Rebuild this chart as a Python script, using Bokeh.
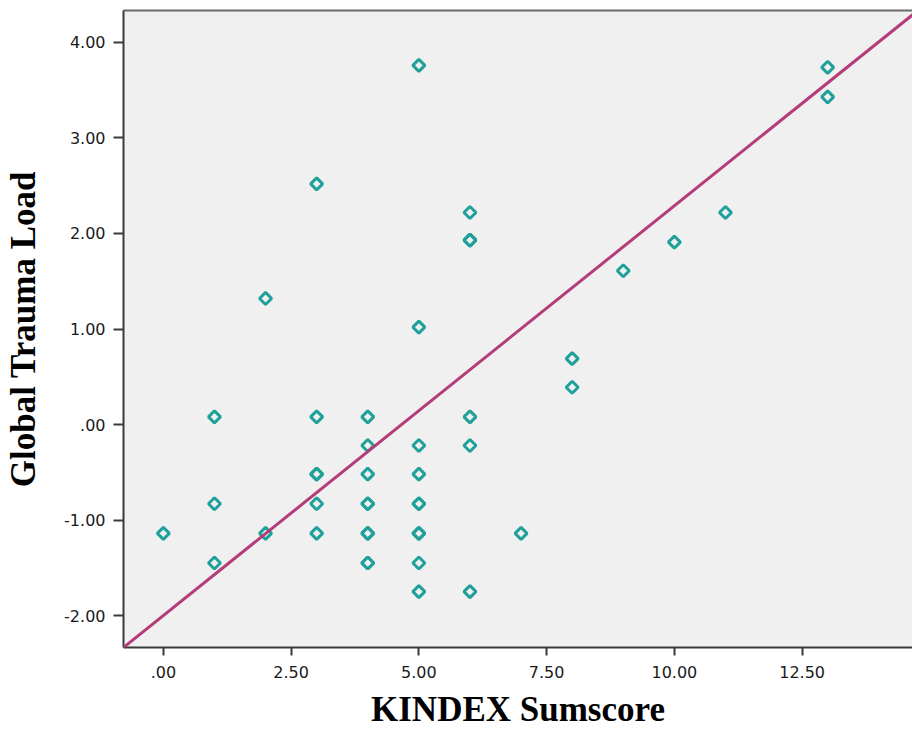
import math
from bokeh.plotting import figure
from bokeh.models import FixedTicker, LinearAxis, Slope, Range1d
from bokeh.embed import file_html
from bokeh.resources import INLINE

# ---- data ----
kindex = [0,
          1, 1, 1,
          2, 2,
          3, 3, 3, 3, 3, 3,
          4, 4, 4, 4, 4, 4, 4, 4, 4,
          5, 5, 5, 5, 5, 5, 5, 5, 5, 5,
          6, 6, 6, 6, 6, 6,
          7,
          8, 8,
          9,
          10,
          11,
          13, 13]
trauma = [-1.14,
          0.08, -0.83, -1.45,
          1.32, -1.14,
          2.52, 0.08, -0.52, -0.52, -0.83, -1.14,
          0.08, -0.22, -0.52, -0.83, -0.83, -1.14, -1.14, -1.45, -1.45,
          3.76, 1.02, -0.22, -0.52, -0.83, -0.83, -1.14, -1.14, -1.45, -1.75,
          2.22, 1.93, 1.93, 0.08, -0.22, -1.75,
          -1.14,
          0.69, 0.39,
          1.61,
          1.91,
          2.22,
          3.74, 3.43]

fit_intercept = -2.0
fit_slope = 0.429

x_ticks = [0, 2.5, 5, 7.5, 10, 12.5]
x_tick_labels = [".00", "2.50", "5.00", "7.50", "10.00", "12.50"]
y_ticks = [-2, -1, 0, 1, 2, 3, 4]
y_tick_labels = ["-2.00", "-1.00", ".00", "1.00", "2.00", "3.00", "4.00"]

x_title = "KINDEX Sumscore"
y_title = "Global Trauma Load"

# ---- figure ----
p = figure(width=912, height=733, output_backend="svg", toolbar_location=None,
           x_range=Range1d(-0.78, 14.66), y_range=Range1d(-2.335, 4.335),
           min_border_left=123, min_border_right=0, min_border_top=10,
           min_border_bottom=86)
p.background_fill_color = "#f0f0f0"
p.border_fill_color = "white"
p.outline_line_color = None
p.grid.visible = False

axis_color = "#3a3a3a"
for ax, ticks, labels, tout in ((p.xaxis[0], x_ticks, x_tick_labels, 8),
                                (p.yaxis[0], y_ticks, y_tick_labels, 10)):
    ax.ticker = FixedTicker(ticks=ticks)
    ax.major_label_overrides = {t: l for t, l in zip(ticks, labels)}
    ax.major_tick_out = tout
    ax.major_tick_in = 0
    ax.minor_tick_line_color = None
    ax.axis_line_color = axis_color
    ax.axis_line_width = 2
    ax.major_tick_line_color = axis_color
    ax.major_tick_line_width = 2
    ax.major_label_text_font = "DejaVu Sans"
    ax.major_label_text_font_size = "16px"
    ax.major_label_text_color = "#1a1a1a"
    ax.axis_label_text_font = "Liberation Serif"
    ax.axis_label_text_font_style = "bold"
    ax.axis_label_text_font_size = "35px"
    ax.axis_label_text_color = "black"

p.xaxis[0].axis_label = x_title
p.yaxis[0].axis_label = y_title
p.xaxis[0].major_label_standoff = 10
p.xaxis[0].axis_label_standoff = 9
p.yaxis[0].major_label_standoff = 8
p.yaxis[0].axis_label_standoff = 18

top = LinearAxis(ticker=FixedTicker(ticks=[]), major_tick_out=0, major_tick_in=0,
                 minor_tick_line_color=None, major_label_text_font_size="0px",
                 major_label_standoff=0, axis_line_color="#6a6a6a", axis_line_width=2)
p.add_layout(top, "above")

p.add_layout(Slope(gradient=fit_slope, y_intercept=fit_intercept,
                   line_color="#b43c78", line_width=3))

p.scatter(kindex, trauma, marker="square", size=8.5, angle=math.pi / 4,
          fill_color=None, line_color="#1fa09a", line_width=3)

open("out.html", "w").write(file_html(p, INLINE))
